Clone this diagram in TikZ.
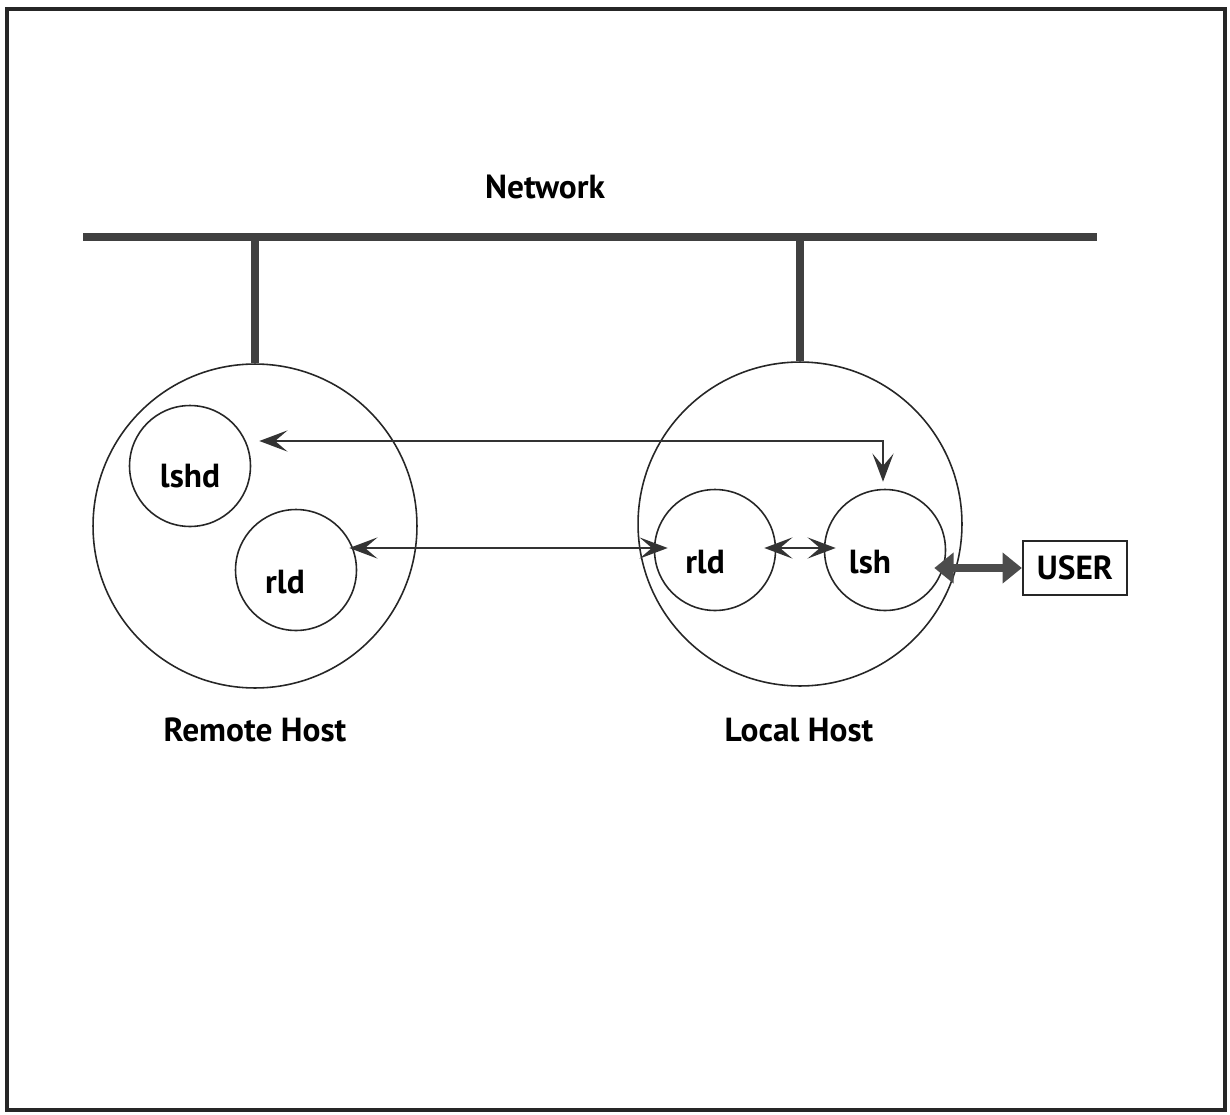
\documentclass[tikz,border=0pt]{standalone}
\usepackage{fontspec}
\setmainfont{PT Sans}
\usetikzlibrary{arrows.meta,positioning,calc}

\begin{document}
\begin{tikzpicture}[
  x=0.02cm,y=-0.02cm,
  font=\fontsize{19}{22}\selectfont\bfseries,
  host/.style={draw=black!85,circle,line width=0.9pt,minimum size=6.48cm,inner sep=0pt},
  proc/.style={draw=black!85,circle,line width=0.9pt,minimum size=2.42cm,inner sep=0pt},
  bus/.style={draw=black!75,line width=4.6pt},
  ar/.style={{Stealth[length=16pt,width=12pt,inset=7pt]}-{Stealth[length=16pt,width=12pt,inset=7pt]},
             draw=black!80,line width=1.4pt},
  fat/.style={{Triangle[length=11pt,width=17pt]}-{Triangle[length=11pt,width=17pt]},
              draw=black!70,line width=4pt},
  userbox/.style={draw=black!85,line width=1.3pt,minimum width=2.08cm,minimum height=1.08cm,inner sep=0pt}
]
\useasboundingbox (0,0) rectangle (1230,1115);
\draw[line width=2.3pt,draw=black!85] (7,9) rectangle (1225,1110);

% network bus
\coordinate (netL) at (83,237);
\coordinate (netR) at (1097,237);
\draw[bus] (netL) -- (netR);
\node (nettxt) at (545,187) {Network};

% hosts
\node[host] (remote) at (255,526) {};
\node[host] (local) at (800,524) {};
\draw[bus] (remote.north) -- (remote.north |- netL);
\draw[bus] (local.north) -- (local.north |- netL);
\node (remtxt) at (255,730) {Remote Host};
\node (loctxt) at (799,730) {Local Host};

% processes
\node[proc,label={[yshift=-0.2cm]center:lshd}] (lshd) at (190,466) {};
\node[proc,label={[xshift=-0.22cm,yshift=-0.24cm]center:rld}] (rrld) at (296,570) {};
\node[proc,label={[xshift=-0.2cm,yshift=-0.24cm]center:rld}] (lrld) at (715,550) {};
\node[proc,label={[xshift=-0.3cm,yshift=-0.24cm]center:lsh}] (lsh) at (885,550) {};
\node[userbox] (user) at (1075,568) {USER};

% links
\draw[ar] ($(lsh.north)+(-2,-7)$) |- ($(lshd.east)+(8,-25)$);
\draw[ar] ($(rrld.east)+(-8,-22)$) -- ($(lrld.west)+(14,-2)$);
\draw[ar] ($(lrld.east)+(-12,-2)$) -- ($(lsh.west)+(12,-2)$);
\draw[fat] ([xshift=-0.24cm]user.west -| lsh.east) -- (user.west);
\end{tikzpicture}
\end{document}
